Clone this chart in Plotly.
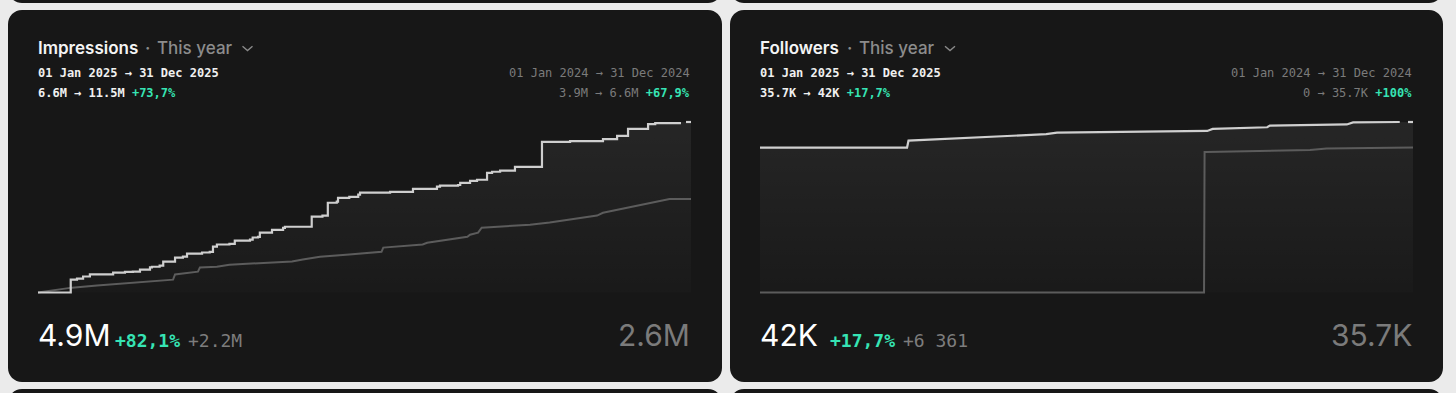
import plotly.graph_objects as go

W, H = 1456, 393

# ---------------- data ----------------
# Impressions: cumulative gain (millions) by day of year
impr_days_2025 = [0, 18.3, 21.8, 25.2, 29, 42, 48.6, 53, 57, 62.6, 63.7, 68, 70, 76.6, 81, 83.3,
                  91.7, 96, 97.8, 100, 107, 110, 118.5, 120, 123, 124, 130.8, 137, 138, 153, 159,
                  162, 167, 167.7, 174, 179, 180, 196.8, 209.6, 223, 224.7, 234.8, 236, 241.5,
                  245.4, 251, 253.8, 258.3, 266.6, 281.7, 297.4, 315.8, 323.7, 329.8, 341, 345, 358.8]
impr_vals_2025 = [0, 0.37, 0.40, 0.46, 0.52, 0.57, 0.59, 0.60, 0.66, 0.72, 0.74, 0.77, 0.89, 1.00,
                  1.03, 1.12, 1.15, 1.17, 1.32, 1.38, 1.40, 1.49, 1.52, 1.58, 1.60, 1.72, 1.80, 1.86,
                  1.89, 2.18, 2.21, 2.58, 2.61, 2.72, 2.75, 2.81, 2.87, 2.89, 2.98, 3.04, 3.07, 3.09,
                  3.15, 3.21, 3.24, 3.44, 3.47, 3.50, 3.61, 4.33, 4.35, 4.41, 4.50, 4.70, 4.84, 4.87, 4.90]
impr_days_2024 = [0, 19, 33, 47.5, 61, 75.5, 76.6, 85, 89.4, 90.5, 100, 107, 142, 148, 157.6, 174,
                  192, 193, 215, 217.5, 228.6, 240, 241.5, 246, 248, 256.6, 267.8, 275, 286, 295.7,
                  312.5, 315.8, 327, 334.8, 343.7, 349, 353, 365]
impr_vals_2024 = [0, 0.14, 0.20, 0.26, 0.32, 0.37, 0.52, 0.57, 0.60, 0.72, 0.74, 0.80, 0.89, 0.95,
                  1.03, 1.09, 1.17, 1.29, 1.38, 1.43, 1.52, 1.60, 1.66, 1.72, 1.86, 1.89, 1.92, 1.95,
                  2.01, 2.09, 2.21, 2.29, 2.41, 2.49, 2.58, 2.64, 2.69, 2.69]
impr_top = 4.9

# Followers: total (thousands) by day of year
foll_days_2025 = [0, 82.2, 83, 112, 160, 166, 250, 253, 283.5, 285, 328, 331.5, 357.6]
foll_vals_2025 = [35.7, 35.7, 37.4, 37.96, 39.0, 39.4, 39.8, 40.3, 40.7, 41.1, 41.4, 41.9, 42.0]
foll_days_2024 = [0, 248.2, 248.5, 249.7, 307.4, 316.7, 365]
foll_vals_2024 = [0, 0, 34.6, 34.6, 35.1, 35.5, 35.7]
foll_top = 42.0

tail_days = [362.2, 365]

# ---------------- styling ----------------
PAGE = "#ebebeb"
CARD = "#171717"
GREEN = "#36e4b4"
WHITE_LINE = "#cfcfcf"
GRAY_LINE = "#5c5c5c"
GRAY_TXT = "#7b7b7b"
MONO = "DejaVu Sans Mono"
SANS = "Inter"


def X(px):
    return px / W


def Y(py):
    return 1 - py / H


def rrect(x0, y0, x1, y1, r):
    k = 0.5523 * r
    p = [
        f"M {X(x0 + r)},{Y(y0)}",
        f"L {X(x1 - r)},{Y(y0)}",
        f"C {X(x1 - r + k)},{Y(y0)} {X(x1)},{Y(y0 + r - k)} {X(x1)},{Y(y0 + r)}",
        f"L {X(x1)},{Y(y1 - r)}",
        f"C {X(x1)},{Y(y1 - r + k)} {X(x1 - r + k)},{Y(y1)} {X(x1 - r)},{Y(y1)}",
        f"L {X(x0 + r)},{Y(y1)}",
        f"C {X(x0 + r - k)},{Y(y1)} {X(x0)},{Y(y1 - r + k)} {X(x0)},{Y(y1 - r)}",
        f"L {X(x0)},{Y(y0 + r)}",
        f"C {X(x0)},{Y(y0 + r - k)} {X(x0 + r - k)},{Y(y0)} {X(x0 + r)},{Y(y0)}",
        "Z",
    ]
    return dict(type="path", path=" ".join(p), xref="paper", yref="paper",
                fillcolor=CARD, line=dict(width=0), layer="below")


def ann(text, x, y, size, color, family, xanchor="left", weight=400):
    return dict(text=text, x=X(x), y=Y(y), xref="paper", yref="paper",
                xanchor=xanchor, yanchor="middle", showarrow=False, borderpad=0,
                font=dict(size=size, color=color, family=family, weight=weight))


fig = go.Figure()
shapes = []
annotations = []

for x0, x1 in [(8, 722), (730, 1443)]:
    shapes.append(rrect(x0, 10, x1, 382, 14))
    shapes.append(rrect(x0, -400, x1, 3, 14))
    shapes.append(rrect(x0, 389, x1, 800, 14))

cards = [
    dict(ox=38, xa="x", ya="y", top=impr_top,
         d25=impr_days_2025, v25=impr_vals_2025, d24=impr_days_2024, v24=impr_vals_2024,
         shape25="hv", shape24="linear"),
    dict(ox=760, xa="x2", ya="y2", top=foll_top,
         d25=foll_days_2025, v25=foll_vals_2025, d24=foll_days_2024, v24=foll_vals_2024,
         shape25="linear", shape24="linear"),
]

layout_axes = {}
for i, c in enumerate(cards):
    ox = c["ox"]
    left, right = ox, ox + 653
    y0px, y1px = 292.5, 122.0
    dl, dr = left - 4, right + 4
    dt, db = 115.0, 298.0
    sx = (right - left) / 365.0
    sy = (y0px - y1px) / c["top"]
    xr = [(dl - left) / sx, 365 + (dr - right) / sx]
    yr = [-(db - y0px) / sy, c["top"] + (y1px - dt) / sy]
    sfx = "" if i == 0 else "2"
    layout_axes["xaxis" + sfx] = dict(domain=[X(dl), X(dr)], range=xr, visible=False,
                                      fixedrange=True, anchor="y" + sfx)
    layout_axes["yaxis" + sfx] = dict(domain=[Y(db), Y(dt)], range=yr, visible=False,
                                      fixedrange=True, anchor="x" + sfx)

    # fill under current-year line
    fig.add_trace(go.Scatter(
        x=c["d25"] + [365], y=c["v25"] + [c["v25"][-1]], mode="lines",
        line=dict(width=0, shape=c["shape25"]), fill="tozeroy",
        fillgradient=dict(type="vertical",
                          colorscale=[[0, "rgba(255,255,255,0.012)"], [1, "rgba(255,255,255,0.065)"]]),
        xaxis=c["xa"], yaxis=c["ya"], hoverinfo="skip", showlegend=False))
    # previous year
    fig.add_trace(go.Scatter(
        x=c["d24"], y=c["v24"], mode="lines",
        line=dict(width=2, color=GRAY_LINE, shape=c["shape24"]),
        xaxis=c["xa"], yaxis=c["ya"], hoverinfo="skip", showlegend=False))
    # current year
    fig.add_trace(go.Scatter(
        x=c["d25"], y=c["v25"], mode="lines",
        line=dict(width=2.2, color=WHITE_LINE, shape=c["shape25"]),
        xaxis=c["xa"], yaxis=c["ya"], hoverinfo="skip", showlegend=False))
    fig.add_trace(go.Scatter(
        x=tail_days, y=[c["v25"][-1]] * 2, mode="lines",
        line=dict(width=2.2, color=WHITE_LINE),
        xaxis=c["xa"], yaxis=c["ya"], hoverinfo="skip", showlegend=False))

# ---------------- texts ----------------
texts = [
    dict(ox=38, title="Impressions", dot=147, ty=156.5, chev=242.5,
         l2="6.6M → 11.5M", l2g="+73,7%", r2="3.9M → 6.6M", r2g="+67,9%",
         big="4.9M", pct="+82,1%", pctx=114, delta="+2.2M", deltax=187.5, prev="2.6M"),
    dict(ox=760, title="Followers", dot=849, ty=859.3, chev=945,
         l2="35.7K → 42K", l2g="+17,7%", r2="0 → 35.7K", r2g="+100%",
         big="42K", pct="+17,7%", pctx=829, delta="+6 361", deltax=902, prev="35.7K"),
]

for t in texts:
    ox = t["ox"]
    rx = ox + 653
    annotations.append(ann(t["title"], ox - 1, 48, 17, "#f4f4f4", SANS, weight=600))
    annotations.append(ann("·", t["dot"], 48, 17, "#8a8a8a", SANS, xanchor="center", weight=600))
    annotations.append(ann("This year", t["ty"] - 1, 48, 17, "#8c8c8c", SANS, weight=500))
    c0 = t["chev"]
    shapes.append(dict(type="path", xref="paper", yref="paper",
                       path=f"M {X(c0)},{Y(46.3)} L {X(c0 + 5)},{Y(50.5)} L {X(c0 + 10)},{Y(46.3)}",
                       line=dict(color="#8a8a8a", width=1.4)))
    annotations.append(ann("01 Jan 2025 → 31 Dec 2025", ox - 1, 72.5, 12, "#f0f0f0", MONO, weight=700))
    annotations.append(ann(f"{t['l2']} <span style='color:{GREEN}'>{t['l2g']}</span>",
                           ox - 1, 92.7, 12, "#f0f0f0", MONO, weight=700))
    annotations.append(ann("01 Jan 2024 → 31 Dec 2024", rx, 72.5, 12, GRAY_TXT, MONO, xanchor="right"))
    annotations.append(ann(f"{t['r2']} <b><span style='color:{GREEN}'>{t['r2g']}</span></b>",
                           rx, 92.7, 12, GRAY_TXT, MONO, xanchor="right"))
    annotations.append(ann(t["big"], ox - 1, 334.5, 30, "#ffffff", SANS))
    annotations.append(ann(t["pct"], t["pctx"], 340, 18, GREEN, MONO, weight=700))
    annotations.append(ann(t["delta"], t["deltax"], 340, 18, "#7d7d7d", MONO))
    annotations.append(ann(t["prev"], rx, 334.5, 30, GRAY_TXT, SANS, xanchor="right"))

fig.update_layout(
    width=W, height=H, margin=dict(l=0, r=0, t=0, b=0),
    paper_bgcolor=PAGE, plot_bgcolor="rgba(0,0,0,0)",
    showlegend=False, hovermode=False,
    shapes=shapes, annotations=annotations,
    **layout_axes,
)

fig.write_html("out.html", config={"displayModeBar": False, "staticPlot": True},
               post_script="document.body.style.margin='0';document.body.style.overflow='hidden';")
